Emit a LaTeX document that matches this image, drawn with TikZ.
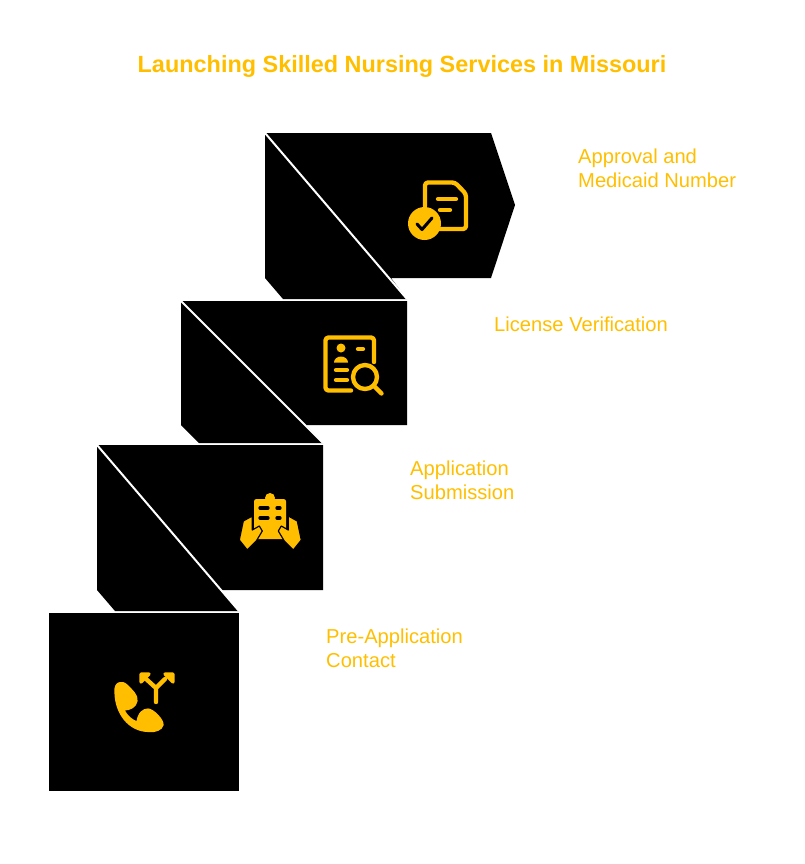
\documentclass[tikz,border=0pt]{standalone}
\usepackage{fontspec}
\setmainfont{Liberation Sans}
\definecolor{amberc}{HTML}{FFBF00}
\tikzset{
    stepshape/.style={fill=black},
    cutline/.style={draw=white, line width=1.7pt},
    iconfill/.style={fill=amberc},
    iconline/.style={draw=amberc, line width=3.7pt, line cap=round, line join=round},
    steplabel/.style={text=amberc, anchor=north west, align=left, inner sep=0pt, font=\fontsize{17.2}{20.5}\selectfont},
}

\begin{document}
\begin{tikzpicture}[x=0.03cm, y=-0.03cm]
    \useasboundingbox (0,0) rectangle (804,864);
    \node[text=amberc, font=\bfseries\fontsize{20}{24}\selectfont] (title) at (402,66.5) {Launching Skilled Nursing Services in Missouri};

    % step four (top)
    \fill[stepshape] (265,133) -- (491,133) -- (515,205) -- (491,278) -- (391,278) -- (407,299) -- (283,299) -- (265,278) -- cycle;
    \draw[cutline] (265,133) -- (407,299);
    % step three
    \fill[stepshape] (181,301) -- (407,301) -- (407,425) -- (306,425) -- (323,443) -- (199,443) -- (181,425) -- cycle;
    \draw[cutline] (181,301) -- (323,443);
    % step two
    \fill[stepshape] (97,445) -- (323,445) -- (323,590) -- (221,590) -- (239,611) -- (115,611) -- (97,590) -- cycle;
    \draw[cutline] (97,445) -- (239,611);
    % step one
    \fill[stepshape] (49,613) rectangle (239,791);

    % labels
    \node[steplabel] (approval) at (578,148.5) {Approval and\\Medicaid Number};
    \node[steplabel] (license) at (494,316.5) {License Verification};
    \node[steplabel] (application) at (410,460.5) {Application\\Submission};
    \node[steplabel] (preapp) at (326,628.5) {Pre-Application\\Contact};

    % document with tick
    \draw[iconline, rounded corners=2.5pt] (425,206) -- (425,182.5) -- (455,182.5) -- (466,194) -- (466,229) -- (438,229);
    \draw[iconline] (438,199) -- (456,199);
    \draw[iconline] (440,210) -- (450,210);
    \fill[iconfill] (424.5,223.5) circle (16.5);
    \draw[draw=black, line width=2.6pt, line cap=round, line join=round] (417,224) -- (422,229.5) -- (432,218);

    % id card with lens
    \draw[iconline, rounded corners=2.5pt] (374,362) -- (374,337.5) -- (325.5,337.5) -- (325.5,390.5) -- (351,390.5);
    \fill[iconfill] (341,348) circle (4.5);
    \draw[iconline] (358,349) -- (363,349);
    \fill[iconfill] (334,362.5) arc[start angle=180, end angle=360, x radius=7, y radius=6] -- cycle;
    \draw[iconline] (336,370) -- (347,370);
    \draw[iconline] (336,380) -- (347,380);
    \draw[iconline] (365,377) circle (12);
    \draw[iconline] (374,386) -- (381.5,393.5);

    % clipboard held in hands
    \fill[iconfill, rounded corners=2pt] (254,499) rectangle (286,539);
    \fill[iconfill] (270,498) circle (5);
    \foreach \y in {508,518} {
        \draw[draw=black, line width=2.8pt, line cap=round] (260,\y) -- (268,\y);
        \draw[draw=black, line width=2.8pt, line cap=round] (277,\y) -- (280,\y);
    }
    \foreach \s in {1,-1} {
        \begin{scope}[xshift=270.3*0.03cm, xscale=\s]
            \fill[iconfill, draw=black, line width=1pt, line join=round] (-18,516) -- (-18,530) -- (-11,526) -- (-8,531) -- (-14,541) -- (-23,550) -- (-31,540) -- (-27,521) -- cycle;
        \end{scope}
    }

    % handset with forked arrows
    \fill[iconfill, draw=amberc, line width=1pt, line join=round] (115,692) .. controls (114,682) and (122,680) .. (127,685) .. controls (132,690) and (138,695) .. (137,701) .. controls (136,707) and (130,710) .. (124,710) .. controls (127,716) and (132,720) .. (137,722) .. controls (138,713) and (143,709) .. (148,709) .. controls (153,709) and (164,720) .. (163,725) .. controls (162,730) and (155,732) .. (150,731.5) .. controls (128,732) and (115,712) .. (115,692) -- cycle;
    \draw[iconline] (156,702) -- (156,688) -- (145,678);
    \draw[iconline] (156,688) -- (165,679);
    \fill[iconfill, draw=amberc, line width=2.8pt, line join=round] (141,674) -- (149,674) -- (141,682) -- cycle;
    \fill[iconfill, draw=amberc, line width=2.8pt, line join=round] (173,674) -- (165,674) -- (173,682) -- cycle;
\end{tikzpicture}
\end{document}
